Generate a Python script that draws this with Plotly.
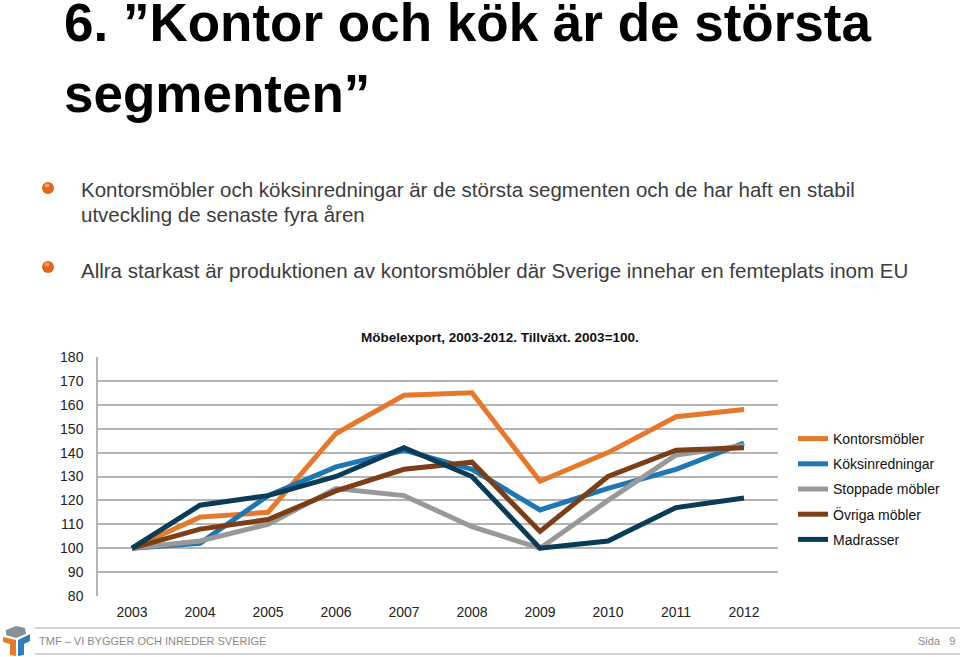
import plotly.graph_objects as go

W, H = 960, 657

years = [2003, 2004, 2005, 2006, 2007, 2008, 2009, 2010, 2011, 2012]
kontorsmobler = [100, 113, 115, 148, 164, 165, 128, 140, 155, 158]
koksinredningar = [100, 102, 122, 134, 141, 133, 116, 125, 133, 144]
stoppade_mobler = [100, 103, 110, 125, 122, 109, 100, 120, 139, 143]
ovriga_mobler = [100, 108, 112, 124, 133, 136, 107, 130, 141, 142]
madrasser = [100, 118, 122, 130, 142, 130, 100, 103, 117, 121]

series_names = ["Kontorsmöbler", "Köksinredningar", "Stoppade möbler", "Övriga möbler", "Madrasser"]
series_values = [kontorsmobler, koksinredningar, stoppade_mobler, ovriga_mobler, madrasser]
series_colors = ["#e5782a", "#1d77b5", "#999999", "#7b3e17", "#0a3b57"]

y_ticks = [80, 90, 100, 110, 120, 130, 140, 150, 160, 170, 180]

chart_title = "Möbelexport, 2003-2012. Tillväxt. 2003=100."
slide_title_1 = "6. ”Kontor och kök är de största"
slide_title_2 = "segmenten”"
bullet_1a = "Kontorsmöbler och köksinredningar är de största segmenten och de har haft en stabil"
bullet_1b = "utveckling de senaste fyra åren"
bullet_2 = "Allra starkast är produktionen av kontorsmöbler där Sverige innehar en femteplats inom EU"
footer_text = "TMF – VI BYGGER OCH INREDER SVERIGE"
page_text = "Sida   9"


def px(x):
    return x / W


def py(y):
    return 1 - y / H


fig = go.Figure()
for name, vals, col in zip(series_names, series_values, series_colors):
    fig.add_trace(go.Scatter(
        x=years, y=vals, name=name, mode="lines",
        line=dict(color=col, width=5), legendgroup=name,
    ))

FONT = "Liberation Sans, Arial, Helvetica, sans-serif"

fig.update_layout(
    width=W, height=H,
    margin=dict(l=0, r=0, t=0, b=0, autoexpand=False),
    paper_bgcolor="white", plot_bgcolor="white",
    font=dict(family=FONT, color="#222222", size=14),
    showlegend=True,
    legend=dict(
        x=px(793), y=py(423), xanchor="left", yanchor="top",
        font=dict(size=14, color="#111111"),
        itemwidth=30, tracegroupgap=4,
        bgcolor="rgba(0,0,0,0)",
    ),
    xaxis=dict(
        domain=[px(98), px(778)],
        range=[2002.5, 2012.5],
        tickmode="array", tickvals=years, ticktext=[str(y) for y in years],
        showgrid=False, zeroline=False, showline=False,
        ticks="", ticklabelstandoff=6, automargin=False,
        tickfont=dict(size=14, color="#222222"),
    ),
    yaxis=dict(
        domain=[py(596), py(357)],
        range=[80, 180],
        tickmode="array", tickvals=y_ticks,
        showgrid=True, gridcolor="#b4b4b4", gridwidth=1.5,
        zeroline=False, showline=True, linecolor="#b4b4b4", linewidth=1.5,
        ticks="", ticklabelstandoff=10, automargin=False,
        tickfont=dict(size=14, color="#222222"),
    ),
)

annotations = [
    dict(text=f"<b>{slide_title_1}</b>", x=px(62), y=py(23), xanchor="left", yanchor="middle",
         font=dict(size=53, color="#000000", family=FONT)),
    dict(text=f"<b>{slide_title_2}</b>", x=px(62), y=py(93), xanchor="left", yanchor="middle",
         font=dict(size=53, color="#000000", family=FONT)),
    dict(text=bullet_1a, x=px(79), y=py(189), xanchor="left", yanchor="middle",
         font=dict(size=20.5, color="#3c3c3c", family=FONT)),
    dict(text=bullet_1b, x=px(79), y=py(214), xanchor="left", yanchor="middle",
         font=dict(size=20.5, color="#3c3c3c", family=FONT)),
    dict(text=bullet_2, x=px(79), y=py(270), xanchor="left", yanchor="middle",
         font=dict(size=20.5, color="#3c3c3c", family=FONT)),
    dict(text=f"<b>{chart_title}</b>", x=px(500), y=py(337), xanchor="center", yanchor="middle",
         font=dict(size=13.5, color="#111111", family="Liberation Sans Narrow, Arial Narrow, " + FONT)),
    dict(text=footer_text, x=px(37), y=py(641), xanchor="left", yanchor="middle",
         font=dict(size=11, color="#8a8a8a", family=FONT)),
    dict(text=page_text, x=px(957), y=py(641), xanchor="right", yanchor="middle",
         font=dict(size=11, color="#8a8a8a", family=FONT)),
]
for a in annotations:
    a.update(xref="paper", yref="paper", showarrow=False)
fig.update_layout(annotations=annotations)

shapes = []
# bullets
for cy in (188, 267):
    shapes.append(dict(type="circle", xref="paper", yref="paper",
                       x0=px(42), x1=px(54), y0=py(cy + 6), y1=py(cy - 6),
                       fillcolor="#e2661c", line=dict(width=0)))
    shapes.append(dict(type="circle", xref="paper", yref="paper",
                       x0=px(44.5), x1=px(49.5), y0=py(cy - 0.5), y1=py(cy - 4.5),
                       fillcolor="rgba(255,190,140,0.6)", line=dict(width=0)))
# footer lines
for ly in (628, 654):
    shapes.append(dict(type="line", xref="paper", yref="paper",
                       x0=px(35), x1=px(960), y0=py(ly), y1=py(ly),
                       line=dict(color="#a8a8a8", width=1.2)))


def path(points):
    return "M " + " L ".join(f"{px(x)},{py(y)}" for x, y in points) + " Z"


# small logo
shapes.append(dict(type="path", xref="paper", yref="paper",
                   path=path([(6, 630), (16, 626), (25, 628), (26, 634), (16, 638), (6, 635)]),
                   fillcolor="#8a8f96", line=dict(width=0)))
shapes.append(dict(type="path", xref="paper", yref="paper",
                   path=path([(3, 637), (16, 640), (16, 656), (10, 655), (10, 644), (3, 642)]),
                   fillcolor="#ea7a28", line=dict(width=0)))
shapes.append(dict(type="path", xref="paper", yref="paper",
                   path=path([(18, 640), (30, 634), (30, 641), (24, 644), (24, 655), (18, 656)]),
                   fillcolor="#2b7fbf", line=dict(width=0)))
fig.update_layout(shapes=shapes)

fig.write_html(
    "out.html",
    config={"displayModeBar": False},
    post_script="document.body.style.margin='0';document.body.style.padding='0';"
                "document.documentElement.style.overflow='hidden';",
)
